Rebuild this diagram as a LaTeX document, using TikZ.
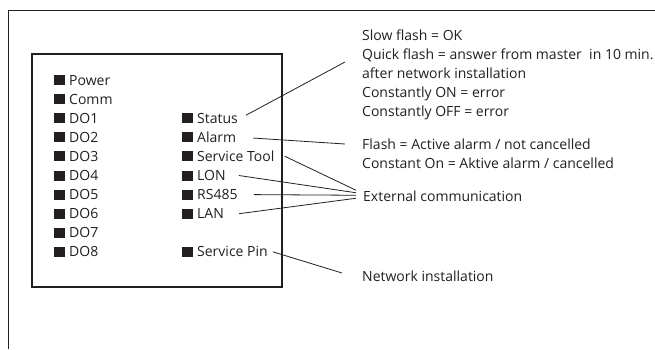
\documentclass[tikz,border=0pt]{standalone}
\usepackage{fontspec}
\setmainfont{Open Sans}
\definecolor{ink}{RGB}{35,31,32}
\newcommand{\led}{\rule{11pt}{10pt}\hspace{4pt}}
\tikzset{
  ledtext/.style={anchor=base west,inner sep=0pt,text=ink,font=\fontsize{14}{19}\selectfont},
  infotext/.style={anchor=base west,inner sep=0pt,text=ink,align=left,font=\fontsize{14}{19}\selectfont},
  pointer/.style={draw=ink,line width=0.8pt}
}
\begin{document}
\begin{tikzpicture}[x=1pt,y=-1pt]
	\useasboundingbox (0,0) rectangle (655,349);
	\draw[ink,line width=1pt] (655,10) -- (8,10) -- (8,349);
	\draw[ink,line width=1.2pt] (32,54) rectangle (282,287);
	\foreach \name/\txt [count=\i from 0] in {pow/Power,com/Comm,do1/DO1,do2/DO2,do3/DO3,do4/DO4,do5/DO5,do6/DO6,do7/DO7,do8/DO8}
		\node[ledtext] (\name) at (54,85+19.1*\i) {\led\txt};
	\foreach \name/\txt/\i in {status/Status/2,alarm/Alarm/3,tool/Service Tool/4,lon/LON/5,rs/RS485/6,lan/LAN/7,pin/Service Pin/9}
		\node[ledtext] (\name) at (182,85+19.1*\i) {\led\txt};
	% anchor base = last line
	\node[infotext] (statusinfo) at (362,116) {Slow flash = OK\\Quick flash = answer from master~ in 10 min.\\after network installation\\Constantly ON = error\\Constantly OFF = error};
	\node[infotext] (alarminfo) at (362,168.5) {Flash = Active alarm / not cancelled\\Constant On = Aktive alarm / cancelled};
	\node[infotext] (extcom) at (363,201) {External communication};
	\node[infotext] (netinst) at (362,281.5) {Network installation};
	\coordinate (s1) at (345,62);
	\coordinate (a1) at (345,144);
	\coordinate (p1) at (342,273);
	\draw[pointer] ([xshift=8pt,yshift=3pt]status.east) -- (s1);
	\draw[pointer] ([xshift=17pt,yshift=-1pt]alarm.east) -- (a1);
	\draw[pointer] ([xshift=10pt]tool.east) -- ([xshift=-7pt,yshift=5.5pt]extcom.west);
	\draw[pointer] ([xshift=13pt]lon.east) -- ([xshift=-7pt,yshift=3pt]extcom.west);
	\draw[pointer] ([xshift=16pt]rs.east) -- ([xshift=-7pt,yshift=0.5pt]extcom.west);
	\draw[pointer] ([xshift=15pt]lan.east) -- ([xshift=-7pt,yshift=-2.5pt]extcom.west);
	\draw[pointer] ([xshift=5pt]pin.east) -- (p1);
\end{tikzpicture}
\end{document}
